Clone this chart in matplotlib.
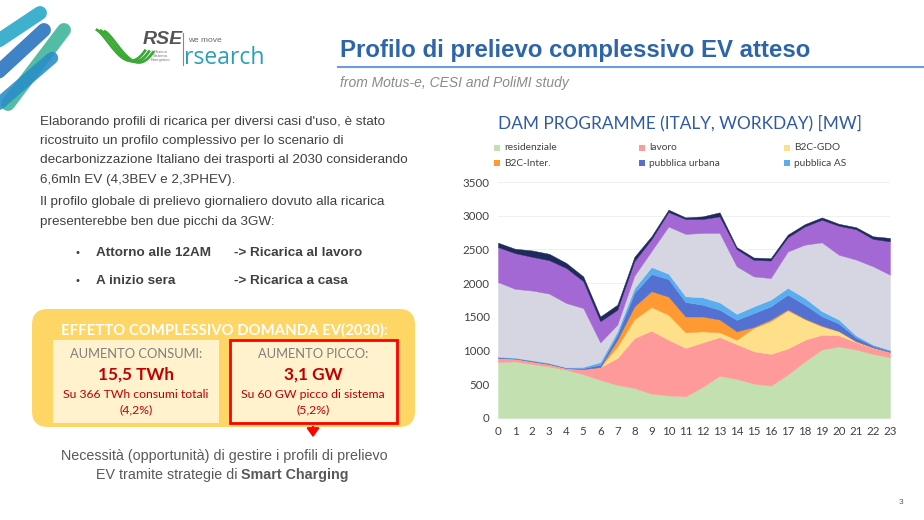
import numpy as np
import matplotlib.pyplot as plt
from matplotlib.patches import FancyBboxPatch, Rectangle, FancyArrowPatch

# ---- chart data (MW) ----
hours = list(range(24))
residenziale = [830, 840, 800, 765, 715, 650, 565, 490, 445, 360, 335, 320,
                460, 625, 580, 510, 480, 645, 840, 1015, 1060, 1015, 950, 900]
lavoro = [60, 40, 40, 35, 25, 75, 190, 400, 740, 935, 825, 720,
          660, 575, 515, 480, 470, 385, 320, 220, 165, 110, 90, 80]
b2c_gdo = [0, 0, 0, 0, 0, 0, 0, 170, 280, 350, 370, 230,
           165, 70, 65, 345, 485, 565, 305, 125, 60, 10, 5, 0]
b2c_inter = [0, 0, 0, 0, 0, 0, 0, 100, 190, 235, 270, 235,
             220, 190, 125, 15, 25, 15, 10, 10, 5, 5, 3, 0]
pubblica_urbana = [10, 7, 8, 8, 5, 15, 35, 75, 200, 255, 260, 215,
                   175, 145, 170, 205, 195, 220, 205, 140, 110, 55, 25, 15]
pubblica_as = [10, 8, 10, 10, 7, 18, 40, 50, 70, 105, 80, 85,
               110, 110, 90, 100, 100, 100, 100, 75, 60, 30, 15, 15]
grigio = [1105, 1020, 1032, 1027, 953, 872, 290, 100, 185, 235, 700, 925,
          955, 1030, 705, 445, 320, 540, 790, 1020, 960, 1125, 1162, 1115]
viola = [520, 530, 500, 495, 520, 400, 315, 220, 215, 175, 215, 220,
         205, 245, 255, 245, 260, 210, 270, 335, 430, 450, 405, 495]
blu_scuro = [65, 65, 95, 95, 75, 70, 70, 75, 65, 45, 35, 25,
             40, 60, 30, 35, 35, 40, 35, 35, 30, 30, 40, 50]

legend_labels = ['residenziale', 'lavoro', 'B2C-GDO',
                 'B2C-Inter.', 'pubblica urbana', 'pubblica AS']
colors = ['#c3e0b0', '#ff9a9a', '#ffe08a', '#ff9a33', '#5470d0',
          '#5aaef0', '#d5d6e2', '#a468d4', '#1f2a5c']
yticks = [0, 500, 1000, 1500, 2000, 2500, 3000, 3500]

fig = plt.figure(figsize=(9.24, 5.2), dpi=100)
bg = fig.add_axes([0, 0, 1, 1])
bg.set_xlim(0, 924)
bg.set_ylim(520, 0)
bg.axis('off')

sans = ['Liberation Sans', 'DejaVu Sans']
cal = ['Lato', 'DejaVu Sans']

# ---- decorative stripes top-left ----
for (x0, y0, x1, y1, c, w) in [(-8, 45, 40, 13, '#2aa8c8', 10),
                                (-8, 78, 44, 30, '#2a74c0', 10),
                                (8, 104, 64, 30, '#3fb59a', 10),
                                (-6, 108, 52, 58, '#2a8fc8', 9)]:
    bg.plot([x0, x1], [y0, y1], color=c, lw=w, solid_capstyle='round', alpha=0.9)

# ---- RSE logo ----
t = np.linspace(0, 1, 40)
for off in [0, 4, 8]:
    xs = 97 + off + 48 * t
    ys = 30 + off * 0.2 + 36 * np.sin(np.pi * t * 0.62) ** 1.3 - 12 * t ** 3
    bg.plot(xs, ys, color='#3aa935', lw=2.0)
bg.text(143, 40, 'RSE', fontsize=14, fontweight='bold', style='italic',
        color='#555555', family=sans, va='center')
bg.text(160, 56, 'Ricerca\nSistema\nEnergetico', fontsize=3, color='#777777',
        family=sans, va='center', ha='center', linespacing=1.1)
bg.plot([183, 183], [33, 65], color='#888888', lw=0.8)
bg.text(188, 41, 'we move', fontsize=6, color='#666666', family=sans, va='center')
bg.text(184, 58, 'rsearch', fontsize=16.5, color='#2a9fb8', family=['Open Sans', 'DejaVu Sans'],
        va='center')

# ---- title ----
bg.text(340, 50, 'Profilo di prelievo complessivo EV atteso', fontsize=17.3,
        fontweight='bold', color='#2d65aa', family=sans, va='center')
bg.plot([338, 924], [67, 67], color='#6d9be0', lw=1.5)
bg.text(340, 83, 'from Motus-e, CESI and PoliMI study', fontsize=10,
        style='italic', color='#8a8a8a', family=sans, va='center')

# ---- left body text ----
body = ["Elaborando profili di ricarica per diversi casi d'uso, è stato",
        "ricostruito un profilo complessivo per lo scenario di",
        "decarbonizzazione Italiano dei trasporti al 2030 considerando",
        "6,6mln EV (4,3BEV e 2,3PHEV)."]
for i, line in enumerate(body):
    bg.text(40, 122 + i * 19.2, line, fontsize=9.7, color='#404040', family=sans, va='center')
body2 = ["Il profilo globale di prelievo giornaliero dovuto alla ricarica",
         "presenterebbe ben due picchi da 3GW:"]
for i, line in enumerate(body2):
    bg.text(40, 202 + i * 19.5, line, fontsize=9.7, color='#404040', family=sans, va='center')
for y, a, b in [(253, 'Attorno alle 12AM', '-> Ricarica al lavoro'),
                (281, 'A inizio sera', '-> Ricarica a casa')]:
    bg.text(75, y, '•', fontsize=8, color='#404040', family=sans, va='center')
    bg.text(96, y, a, fontsize=9.7, fontweight='bold', color='#404040', family=sans, va='center')
    bg.text(234, y, b, fontsize=9.7, fontweight='bold', color='#404040', family=sans, va='center')

# ---- yellow summary box ----
bg.add_patch(FancyBboxPatch((32, 309), 383, 118, boxstyle='round,pad=0,rounding_size=16',
                            fc='#fdd666', ec='none'))
bg.text(224, 330, 'EFFETTO COMPLESSIVO DOMANDA EV(2030):', fontsize=10.7,
        fontweight='bold', color='white', family=cal, ha='center', va='center')
bg.add_patch(Rectangle((53, 340), 166, 83, fc='#fff2cc', ec='none'))
bg.add_patch(Rectangle((230, 340), 167, 83, fc='#fff2cc', ec='#ff0000', lw=2))
for cx, head, big, sub, pct in [(136, 'AUMENTO CONSUMI:', '15,5 TWh', 'Su 366 TWh consumi totali', '(4,2%)'),
                                (313, 'AUMENTO PICCO:', '3,1 GW', 'Su 60 GW picco di sistema', '(5,2%)')]:
    bg.text(cx, 354, head, fontsize=9.3, color='#7f7f7f', family=cal, ha='center', va='center')
    bg.text(cx, 375, big, fontsize=12.3, fontweight='bold', color='#c00000', family=cal,
            ha='center', va='center')
    bg.text(cx, 395, sub, fontsize=8.8, color='#c00000', family=cal, ha='center', va='center')
    bg.text(cx, 410, pct, fontsize=8.8, color='#c00000', family=cal, ha='center', va='center')
bg.add_patch(FancyArrowPatch((313, 424), (313, 440), arrowstyle='-|>,head_length=3.5,head_width=2.5',
                             color='#ff0000', lw=1.5, mutation_scale=1.5))

# ---- bottom text ----
bg.text(224, 456, 'Necessità (opportunità) di gestire i profili di prelievo', fontsize=10.3,
        color='#595959', family=sans, ha='center', va='center')
t1 = bg.text(0, 475, 'EV tramite strategie di ', fontsize=10.3, color='#595959',
             family=sans, va='center')
t2 = bg.text(0, 475, 'Smart Charging', fontsize=10.3, fontweight='bold', color='#595959',
             family=sans, va='center')
fig.canvas.draw()
r = fig.canvas.get_renderer()
w1 = t1.get_window_extent(r).width
w2 = t2.get_window_extent(r).width
x_start = 222 - (w1 + w2) / 2
t1.set_x(x_start)
t2.set_x(x_start + w1)

bg.text(901, 503, '3', fontsize=6, color='#595959', family=sans, ha='center', va='center')

# ---- chart ----
ax = fig.add_axes([498 / 924, 1 - 418 / 520, 392 / 924, 236 / 520])
polys = ax.stackplot(hours, residenziale, lavoro, b2c_gdo, b2c_inter, pubblica_urbana,
                     pubblica_as, grigio, viola, blu_scuro, colors=colors,
                     edgecolor='face', linewidth=0.3)
ax.set_xlim(0, 23)
ax.set_ylim(0, 3500)
ax.set_xticks(hours)
ax.set_yticks(yticks)
ax.tick_params(length=0, labelsize=8.3, labelcolor='#404040', pad=6)
for lab in ax.get_xticklabels() + ax.get_yticklabels():
    lab.set_family(cal)
ax.grid(axis='y', color='#eeeeee', lw=0.6)
ax.set_axisbelow(True)
for s in ax.spines.values():
    s.set_visible(False)

bg.text(498, 123, 'DAM PROGRAMME (ITALY, WORKDAY) [MW]', fontsize=12.4, color='#2f5aa5',
        family=cal, va='center')
for i, name in enumerate(legend_labels):
    col, row = i % 3, i // 3
    x = [494, 639, 784][col]
    y = 148 + row * 15
    bg.add_patch(Rectangle((x, y - 3), 6, 6, fc=colors[i], ec='none'))
    bg.text(x + 10, y, name, fontsize=7.3, color='#404040', family=cal, va='center')

fig.savefig('out.png', dpi=100)
